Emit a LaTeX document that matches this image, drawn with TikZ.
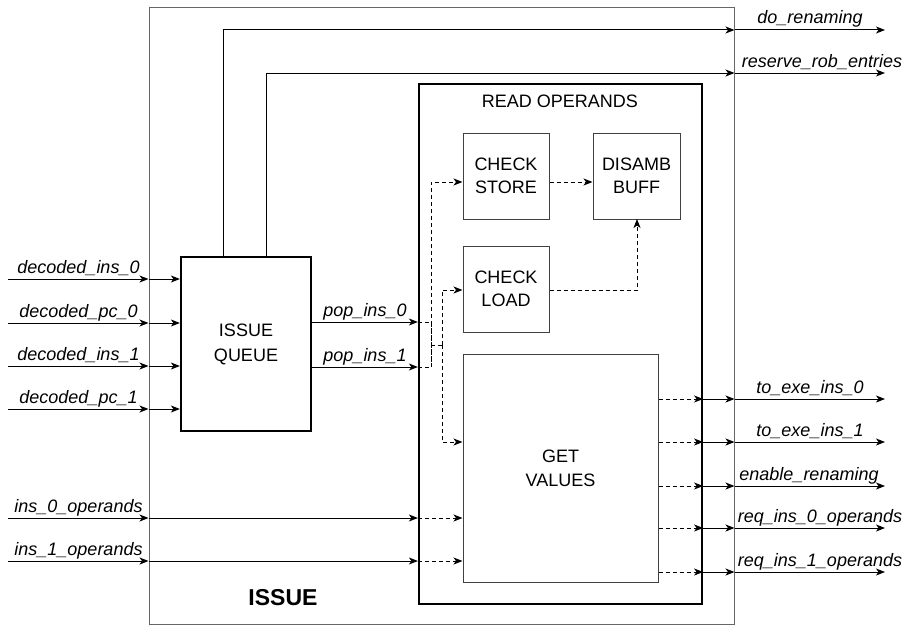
\documentclass[tikz,border=0pt]{standalone}
\usepackage{fontspec}
\setmainfont{Liberation Sans}
\usetikzlibrary{arrows.meta,calc}
\begin{document}
\begin{tikzpicture}[x=1pt,y=-1pt,
  every node/.style={font=\fontsize{18}{23}\selectfont},
  lbl/.style={font=\fontsize{18}{21}\selectfont\itshape, anchor=base, inner sep=0pt},
  blk/.style={draw=black!75, line width=1pt, minimum width=86pt, minimum height=86pt, align=center, inner sep=0pt},
  bigbox/.style={draw=black, line width=2.2pt, inner sep=0pt, align=center},
  arr/.style={-{Stealth[length=9pt,width=7pt,inset=2.5pt]}, line width=1pt},
  dsh/.style={dash pattern=on 4pt off 3pt, line width=1pt},
]
\useasboundingbox (0,0) rectangle (904,626);
\fill[white] (0,0) rectangle (904,626);

% outer ISSUE box
\node[draw=black!60, line width=1pt, minimum width=585pt, minimum height=616pt, inner sep=0pt] (outer) at (441.5,316) {};
\node[font=\fontsize{23}{27}\selectfont\bfseries] (issuelbl) at (283,598) {ISSUE};

% issue queue
\node[bigbox, minimum width=130pt, minimum height=174pt, font=\fontsize{18}{25}\selectfont] (queue) at (246,344) {ISSUE\\QUEUE};

% read operands
\node[bigbox, minimum width=283pt, minimum height=520pt] (ro) at (560.5,344) {};
\node (rolbl) at (560,101) {READ OPERANDS};

\node[blk] (cs) at (506,176) {CHECK\\STORE};
\node[blk, minimum width=87pt] (db) at (636.5,176) {DISAMB\\BUFF};
\node[blk] (cl) at (506,289) {CHECK\\LOAD};
\node[blk, minimum width=195pt, minimum height=228pt, font=\fontsize{18}{24}\selectfont] (gv) at (560.5,468) {GET\\VALUES};

% inputs to queue
\foreach \y/\t [count=\i] in {279/decoded\_ins\_0, 323/decoded\_pc\_0, 366/decoded\_ins\_1, 409/decoded\_pc\_1} {
  \coordinate (in\i) at (8,\y);
  \draw[arr] (in\i) -- (outer.west |- in\i);
  \draw[arr] (outer.west |- in\i) -- (queue.west |- in\i);
  \node[lbl] at (78.5,\y-6) {\t};
}

% operand inputs
\foreach \y/\t [count=\i] in {518/ins\_0\_operands, 561/ins\_1\_operands} {
  \coordinate (op\i) at (8,\y);
  \draw[arr] (op\i) -- (outer.west |- op\i);
  \draw[arr] (outer.west |- op\i) -- (ro.west |- op\i);
  \draw[arr,dsh] (ro.west |- op\i) -- (gv.west |- op\i);
  \node[lbl] at (78.5,\y-6) {\t};
}

% pop_ins
\coordinate (p0) at (311,322);
\coordinate (p1) at (311,367);
\draw[arr] (p0) -- (ro.west |- p0);
\draw[arr] (p1) -- (ro.west |- p1);
\node[lbl] at (365,316) {pop\_ins\_0};
\node[lbl] at (365,361) {pop\_ins\_1};

% dashed distribution
\coordinate (ja) at (431,322);
\coordinate (jb) at (431,367);
\coordinate (jc) at (431,345);
\coordinate (jd) at (442,345);
\coordinate (cst) at (463,182);
\coordinate (clt) at (463,290);
\coordinate (gvt) at (463,442);
\draw[dsh] (ro.west |- ja) -- (ja) -- (jb);
\draw[dsh] (ro.west |- jb) -- (jb);
\draw[arr,dsh] (jb) -- (ja |- cst) -- (cs.west |- cst);
\draw[dsh] (jc) -- (jd);
\draw[arr,dsh] (jd) |- (cl.west |- clt);
\draw[arr,dsh] (jd) |- (gv.west |- gvt);

\draw[arr,dsh] (cs.east |- cst) -- (db.west |- cst);
\coordinate (dbin) at (637,219);
\draw[arr,dsh] (cl.east |- clt) -| (dbin);

% top outputs
\coordinate (t1) at (885,30);
\coordinate (t2) at (885,73);
\coordinate (qa) at ($(queue.north west)+(44,0)$);
\coordinate (qb) at ($(queue.north west)+(87,0)$);
\draw[arr] (qa) |- (outer.east |- t1);
\draw[arr] (outer.east |- t1) -- (t1);
\draw[arr] (qb) |- (outer.east |- t2);
\draw[arr] (outer.east |- t2) -- (t2);
\node[lbl] at (810,24) {do\_renaming};
\node[lbl] at (822,67) {reserve\_rob\_entries};

% right outputs
\foreach \y/\t/\cx [count=\i] in {399/to\_exe\_ins\_0/810, 442/to\_exe\_ins\_1/810, 486/enable\_renaming/809, 528/req\_ins\_0\_operands/820, 572/req\_ins\_1\_operands/820} {
  \coordinate (o\i) at (885,\y);
  \draw[arr,dsh] (gv.east |- o\i) -- (ro.east |- o\i);
  \draw[arr] (ro.east |- o\i) -- (outer.east |- o\i);
  \draw[arr] (outer.east |- o\i) -- (o\i);
  \node[lbl] at (\cx,\y-6) {\t};
}
\end{tikzpicture}
\end{document}
